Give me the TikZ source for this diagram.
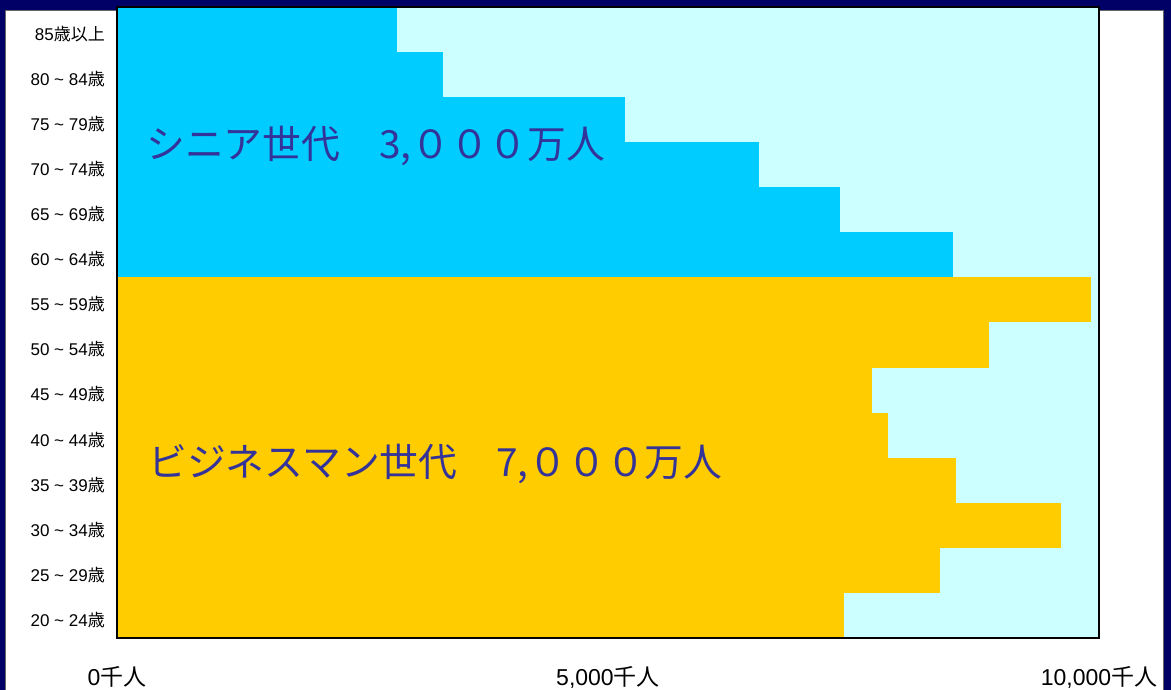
\documentclass[tikz,border=0pt]{standalone}
\usepackage{fontspec}
\setmainfont{Liberation Sans}
\newfontfamily\jp{Noto Sans CJK JP}
\definecolor{navyback}{RGB}{0,0,102}
\definecolor{senior}{RGB}{0,204,255}
\definecolor{business}{RGB}{255,204,0}
\definecolor{paleblue}{RGB}{204,255,255}
\definecolor{gentext}{RGB}{51,51,153}
\tikzset{
  agelabel/.style={anchor=east, inner sep=0pt, font=\fontsize{17}{17}\selectfont},
  axislabel/.style={inner sep=0pt, font=\fontsize{23}{23}\selectfont},
  genlabel/.style={anchor=west, inner sep=0pt, text=gentext, font=\jp\fontsize{38.8}{38.8}\selectfont}
}
\newcommand{\sai}{{\jp 歳}}
\newcommand{\agerange}[2]{#1 \textasciitilde\ #2\sai}

\begin{document}
\begin{tikzpicture}[x=1pt, y=-1pt]
    \useasboundingbox (0,0) rectangle (1171,690);
    \fill[navyback] (0,0) rectangle (1171,690);
    \draw[fill=white, draw=black!60] (5,10) rectangle (1163,700);
    \coordinate (O) at (117,638);
    \coordinate (T) at (1099,7);
    \fill[paleblue] (O) rectangle (T);
    \foreach \w/\lbl [count=\i] in {280/{85{\jp 歳以上}}, 326/{\agerange{80}{84}},
        508/{\agerange{75}{79}}, 642/{\agerange{70}{74}}, 723/{\agerange{65}{69}},
        836/{\agerange{60}{64}}, 974/{\agerange{55}{59}}, 872/{\agerange{50}{54}},
        755/{\agerange{45}{49}}, 771/{\agerange{40}{44}}, 839/{\agerange{35}{39}},
        944/{\agerange{30}{34}}, 823/{\agerange{25}{29}}, 727/{\agerange{20}{24}}}
    {
        \pgfmathsetmacro\ytop{7+(\i-1)*45.07}
        \def\barcol{senior}
        \ifnum\i>6 \def\barcol{business}\fi
        \fill[\barcol] (117,\ytop) rectangle ++(\w,45.07);
        \node[agelabel] (age\i) at (105,{\ytop+27}) {\lbl};
    }
    \draw[line width=1.2pt] (O) rectangle (T);
    \node[genlabel] (senior) at (146,146) {シニア世代　3,０００万人};
    \node[genlabel] (business) at (148,464) {ビジネスマン世代　7,０００万人};
    \node[axislabel] (x0) at (117,677) {0{\jp 千人}};
    \node[axislabel] (x5) at (608,677) {5,000{\jp 千人}};
    \node[axislabel] (x10) at (1099,677) {10,000{\jp 千人}};
\end{tikzpicture}
\end{document}
